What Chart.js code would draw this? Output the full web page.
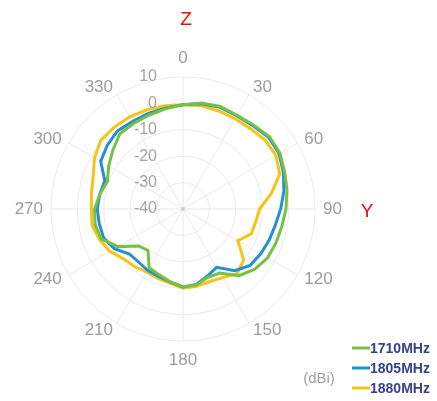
<!DOCTYPE html>
<html>
<head>
<meta charset="utf-8">
<script src="https://cdn.jsdelivr.net/npm/chart.js@4.4.0/dist/chart.umd.min.js"></script>
<style>
  html, body { margin: 0; padding: 0; background: #fff; }
  #wrap { width: 437px; height: 401px; }
</style>
</head>
<body>
<div id="wrap"><canvas id="patternChart" width="437" height="401"></canvas></div>
<script>
// angle categories, degrees clockwise from Z (top)
const angleLabels = ["0", "10", "20", "30", "40", "50", "60", "70", "80", "90", "100", "110",
                     "120", "130", "140", "150", "160", "170", "180", "190", "200", "210", "220", "230",
                     "240", "250", "260", "270", "280", "290", "300", "310", "320", "330", "340", "350"];
const shownAngles = ["0", "30", "60", "90", "120", "150", "180", "210", "240", "270", "300", "330"];
const radialTicks = [10, 0, -10, -20, -30, -40];

const seriesNames = ["1710MHz", "1805MHz", "1880MHz"];
const seriesColors = ["#76c143", "#2390d0", "#f6c419"];

// gain in dBi, every 10 degrees
const gain1710 = [-0.5, 0.8, 1.3, 1.0, 1.5, 2.7, 2.4, 1.0, 0.0, -1.0, -2.0, -2.5,
                  -3.0, -4.5, -7.0, -12.0, -12.5, -10.8, -10.5, -12.0, -13.5, -14.3, -19.4, -18.2,
                  -11.5, -7.0, -6.2, -6.5, -8.0, -9.5, -7.5, -5.3, -2.8, -2.6, -2.2, -1.5];
const gain1805 = [-0.5, 0.5, 1.0, 0.8, 1.2, 2.3, 2.0, 0.5, -1.2, -3.0, -4.5, -5.3,
                  -6.0, -6.8, -9.5, -14.5, -13.0, -11.0, -10.5, -12.0, -12.8, -13.2, -13.8, -13.5,
                  -10.0, -8.0, -7.8, -7.5, -8.0, -8.5, -4.0, -2.5, -1.4, -1.7, -1.5, -1.2];
const gain1880 = [-0.5, -0.3, -0.5, -0.5, -0.3, 0.7, 0.6, -1.0, -6.0, -11.0, -12.0, -12.5,
                  -16.0, -10.0, -8.0, -10.0, -10.7, -10.3, -10.0, -11.5, -12.0, -12.5, -11.5, -10.6,
                  -8.0, -6.3, -5.0, -5.3, -4.8, -3.8, -1.3, 0.6, 0.5, 0.3, 0.0, -0.3];

const fontFamily = '"Liberation Sans", Arial, sans-serif';

// text around the polar grid: ring values, angle labels, axis names, legend
const polarText = {
    id: "polarText",
    afterDraw(chart) {
        const ctx = chart.ctx;
        const r = chart.scales.r;
        ctx.save();

        // little dot in the centre
        ctx.fillStyle = "#cfcfcf";
        ctx.beginPath();
        ctx.arc(r.xCenter, r.yCenter, 2, 0, Math.PI * 2);
        ctx.fill();

        // ring values, stacked left of the centre line
        ctx.font = "16px " + fontFamily;
        ctx.fillStyle = "#a3a3a3";
        ctx.textAlign = "right";
        ctx.textBaseline = "middle";
        radialTicks.forEach(v => {
            const d = r.getDistanceFromCenterForValue(v);
            ctx.fillText(String(v), r.xCenter - 26, r.yCenter - d);
        });

        // angle labels: centred at top/bottom, pushed outward at the sides
        ctx.font = "17px " + fontFamily;
        ctx.fillStyle = "#9c9c9c";
        angleLabels.forEach((lab, i) => {
            if (!shownAngles.includes(lab)) return;
            const deg = Number(lab);
            if (deg === 0 || deg === 180) {
                const p = r.getPointPosition(i, r.drawingArea + 19);
                ctx.textAlign = "center";
                ctx.fillText(lab, p.x, p.y);
            } else {
                const p = r.getPointPosition(i, r.drawingArea + 8);
                ctx.textAlign = deg < 180 ? "left" : "right";
                ctx.fillText(lab, p.x, p.y);
            }
        });

        // axis names
        ctx.textAlign = "center";
        ctx.font = "19px " + fontFamily;
        ctx.fillStyle = "#ff0000";
        ctx.fillText("Z", r.xCenter + 3, r.yCenter - 189);
        ctx.fillText("Y", r.xCenter + 184, r.yCenter + 3);

        // unit
        ctx.font = "15px " + fontFamily;
        ctx.fillStyle = "#a0a0a0";
        ctx.fillText("(dBi)", 319, 379);

        // legend
        ctx.font = "bold 14px " + fontFamily;
        ctx.textAlign = "left";
        chart.data.datasets.forEach((ds, i) => {
            const y = 348 + i * 20;
            ctx.strokeStyle = ds.borderColor;
            ctx.lineWidth = 3;
            ctx.beginPath();
            ctx.moveTo(352, y);
            ctx.lineTo(370, y);
            ctx.stroke();
            ctx.fillStyle = "#3a3f8c";
            ctx.fillText(ds.label, 370, y + 1);
        });

        ctx.restore();
    }
};

const gainSeries = [gain1710, gain1805, gain1880];

new Chart(document.getElementById("patternChart"), {
    type: "radar",
    data: {
        labels: angleLabels,
        datasets: seriesNames.map((name, i) => ({
            label: name,
            data: gainSeries[i],
            borderColor: seriesColors[i],
            borderWidth: 3,
            pointRadius: 0,
            fill: false,
            tension: 0
        }))
    },
    options: {
        responsive: false,
        animation: false,
        layout: { padding: { left: 51, top: 77, right: 122, bottom: 60 } },
        plugins: {
            legend: { display: false },
            tooltip: { enabled: false }
        },
        scales: {
            r: {
                min: -40,
                max: 10,
                ticks: { display: false, stepSize: 10 },
                pointLabels: { display: false },
                grid: { circular: true, color: "#e9e9e9", lineWidth: 1 },
                angleLines: {
                    color: c => (c.index % 3 === 0 ? "#e9e9e9" : "rgba(0,0,0,0)"),
                    lineWidth: 1
                }
            }
        }
    },
    plugins: [polarText]
});
</script>
</body>
</html>
